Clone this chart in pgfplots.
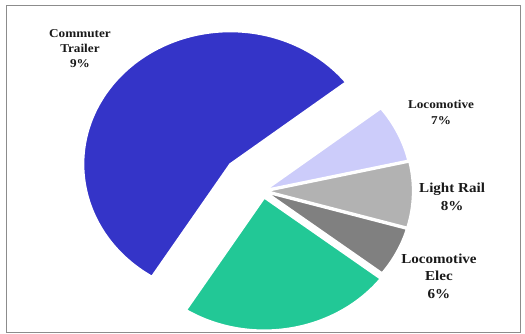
\documentclass[border=0pt]{standalone}
\usepackage{graphicx}
\usepackage{pgfplots}
\pgfplotsset{compat=1.18}
\usepackage{pgfplotstable}
\usepackage{fontspec}
\setmainfont{Liberation Serif}

\definecolor{slice0}{RGB}{204,204,250}
\definecolor{slice1}{RGB}{178,178,178}
\definecolor{slice2}{RGB}{128,128,128}
\definecolor{slice3}{RGB}{34,200,150}
\definecolor{slice4}{RGB}{52,52,200}
\definecolor{framegray}{RGB}{140,140,140}

% percentages, clockwise from the top right, and how far each slice is pulled out
\pgfplotstableread{
label value explode
Locomotive 7 0.015
LightRail 8 0.02
LocomotiveElec 6 0.02
Green 23.5 0.05
Blue 55.5 0.30
}\piedata

\newcommand{\sx}[1]{\scalebox{1.1}[1]{#1}}

\def\pieslices{}
\pgfmathsetmacro\cur{38}
\pgfplotsforeachungrouped \i in {0,...,4}{%
  \pgfplotstablegetelem{\i}{value}\of\piedata \let\val\pgfplotsretval
  \pgfplotstablegetelem{\i}{explode}\of\piedata \let\exx\pgfplotsretval
  \pgfmathsetmacro\endang{\cur-3.6*\val}%
  \pgfmathsetmacro\midang{(\cur+\endang)/2}%
  \pgfmathsetmacro\ox{\exx*cos(\midang)}%
  \pgfmathsetmacro\oy{\exx*sin(\midang)}%
  \pgfmathsetmacro\stx{\ox+cos(\cur)}%
  \pgfmathsetmacro\sty{\oy+sin(\cur)}%
  \xdef\pieslices{\pieslices
    \noexpand\fill[slice\i, draw=white, line width=2.2pt, line join=round]
    (axis cs:\ox,\oy) -- (axis cs:\stx,\sty)
    arc[start angle=\cur, end angle=\endang, x radius=147pt, y radius=133pt] -- cycle;}%
  \global\let\cur\endang
}

\begin{document}
\begin{tikzpicture}
\begin{axis}[
  x=147pt, y=133pt,
  xmin=-1.748, xmax=1.748,
  ymin=-1.060, ymax=1.398,
  axis lines=box, ticks=none,
  axis line style={draw=framegray, line width=0.8pt},
  clip=true,
]
\pieslices
\node[align=center, text=black!90, font=\bfseries\fontsize{12}{15}\selectfont]
  at (axis cs:-1.245,1.068) {\sx{Commuter}\\\sx{Trailer}\\\sx{9\%}};
\node[align=center, text=black!90, font=\bfseries\fontsize{12}{16}\selectfont]
  at (axis cs:1.211,0.594) {\sx{Locomotive}\\\sx{7\%}};
\node[align=center, text=black!90, font=\bfseries\fontsize{13.7}{17.5}\selectfont]
  at (axis cs:1.286,-0.045) {\sx{Light Rail}\\\sx{8\%}};
\node[align=center, text=black!90, font=\bfseries\fontsize{13.7}{17.5}\selectfont]
  at (axis cs:1.197,-0.639) {\sx{Locomotive}\\\sx{Elec}\\\sx{6\%}};
\end{axis}
\path ([shift={(-6pt,-2pt)}]current axis.south west) rectangle ([shift={(5pt,5pt)}]current axis.north east);
\end{tikzpicture}
\end{document}
